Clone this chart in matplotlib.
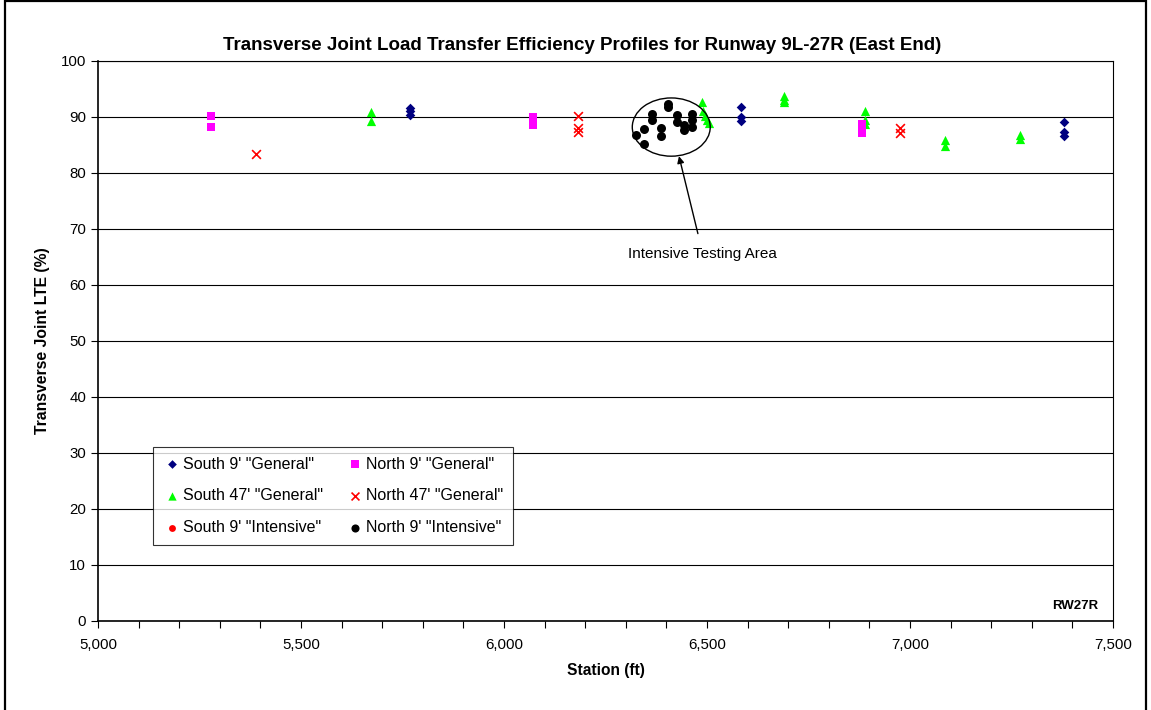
import matplotlib
matplotlib.use("Agg")
import matplotlib.pyplot as plt
from matplotlib.patches import Ellipse, Rectangle
from matplotlib.ticker import MultipleLocator, FuncFormatter

plt.rcParams['font.family'] = ['Liberation Sans', 'DejaVu Sans']

# Station (ft) and LTE (%) for each test group
south9_gen_x = [5768, 5768, 5768, 6583, 6583, 6583, 7380, 7380, 7380]
south9_gen_y = [91.6, 91.0, 90.3, 91.8, 90.0, 89.3, 89.1, 87.4, 86.6]

north9_gen_x = [5278, 5278, 6072, 6072, 6072, 6882, 6882, 6882]
north9_gen_y = [90.2, 88.3, 90.0, 89.3, 88.6, 88.7, 87.8, 87.1]

south47_gen_x = [5672, 5672, 6487, 6490, 6495, 6500, 6505, 6690, 6690, 6690,
                 6888, 6888, 6888, 7087, 7087, 7270, 7270]
south47_gen_y = [90.9, 89.2, 92.6, 91.0, 90.2, 89.5, 89.0, 93.8, 93.0, 92.6,
                 91.0, 89.5, 88.7, 85.9, 84.8, 86.8, 86.0]

north47_gen_x = [5390, 6183, 6183, 6183, 6976, 6976]
north47_gen_y = [83.4, 90.1, 88.0, 87.3, 88.0, 87.2]

south9_int_x = []
south9_int_y = []

north9_int_x = [6325, 6346, 6346, 6365, 6365, 6386, 6386, 6405, 6405,
                6426, 6426, 6444, 6444, 6464, 6464, 6464]
north9_int_y = [86.8, 87.8, 85.2, 90.6, 89.5, 88.0, 86.6, 92.4, 91.7,
                90.3, 89.1, 88.6, 87.7, 90.6, 89.5, 88.2]

fig = plt.figure(figsize=(11.51, 7.10), dpi=100)
ax = fig.add_axes([0.0851, 0.1254, 0.8819, 0.7887])

ax.scatter(south9_gen_x, south9_gen_y, marker='D', s=24, color='#000080',
           label='South 9\' "General"', zorder=3, linewidths=0)
ax.scatter(south47_gen_x, south47_gen_y, marker='^', s=44, color='#00ff00',
           label='South 47\' "General"', zorder=3, linewidths=0)
ax.scatter(south9_int_x, south9_int_y, marker='o', s=30, color='#ff0000',
           label='South 9\' "Intensive"', zorder=3, linewidths=0)
ax.scatter(north9_gen_x, north9_gen_y, marker='s', s=32, color='#ff00ff',
           label='North 9\' "General"', zorder=3, linewidths=0)
ax.scatter(north47_gen_x, north47_gen_y, marker='x', s=40, color='#ff0000',
           label='North 47\' "General"', zorder=3, linewidths=1.2)
ax.scatter(north9_int_x, north9_int_y, marker='o', s=42, color='#000000',
           label='North 9\' "Intensive"', zorder=3, linewidths=0)

ax.set_xlim(5000, 7500)
ax.set_ylim(0, 100)
ax.xaxis.set_major_locator(MultipleLocator(500))
ax.xaxis.set_minor_locator(MultipleLocator(100))
ax.yaxis.set_major_locator(MultipleLocator(10))
ax.xaxis.set_major_formatter(FuncFormatter(lambda v, p: f"{int(v):,}"))
ax.tick_params(axis='both', which='major', labelsize=10.8, length=5, width=0.8,
               direction='out', color='black')
ax.tick_params(axis='x', which='minor', length=5, width=0.8, direction='out')
ax.tick_params(axis='x', pad=7)
ax.grid(axis='y', color='black', linewidth=0.8)
ax.set_axisbelow(True)
for s in ax.spines.values():
    s.set_color('black')
    s.set_linewidth(0.8)
ax.spines['left'].set_linewidth(1.2)
ax.spines['bottom'].set_linewidth(1.2)

ax.set_title('Transverse Joint Load Transfer Efficiency Profiles for Runway 9L-27R (East End)',
             fontsize=13.5, fontweight='bold', pad=8, x=0.477)
ax.set_xlabel('Station (ft)', fontsize=11.2, fontweight='bold', labelpad=8)
ax.set_ylabel('Transverse Joint LTE (%)', fontsize=11.3, fontweight='bold', labelpad=8)

# Intensive testing zone outline and callout
ax.add_patch(Ellipse((6412, 88.2), 192, 10.4, fill=False, edgecolor='black',
                     linewidth=1.0, zorder=4))
ax.annotate('Intensive Testing Area', xy=(6431, 83.0), xytext=(6490, 65.5),
            ha='center', va='center', fontsize=11,
            arrowprops=dict(arrowstyle='-|>', color='black', lw=1.0,
                            shrinkA=8, shrinkB=0, mutation_scale=10))

ax.text(0.985, 0.016, 'RW27R', transform=ax.transAxes, ha='right', va='bottom',
        fontsize=9.5, fontweight='bold')

leg = ax.legend(ncol=2, loc='lower left', bbox_to_anchor=(0.054, 0.136),
                borderaxespad=0, fontsize=11.5, frameon=True, fancybox=False,
                edgecolor='black', handletextpad=0.1, columnspacing=1.4,
                labelspacing=1.05, borderpad=0.6, handlelength=1.2,
                markerscale=0.9, scatterpoints=1)
leg.get_frame().set_linewidth(0.8)

# Outer frame of the figure
fig.patches.append(Rectangle((0.0045, -0.01), 0.991, 1.008, transform=fig.transFigure,
                             fill=False, edgecolor='black', linewidth=1.6))

fig.savefig('out.png', dpi=100)
